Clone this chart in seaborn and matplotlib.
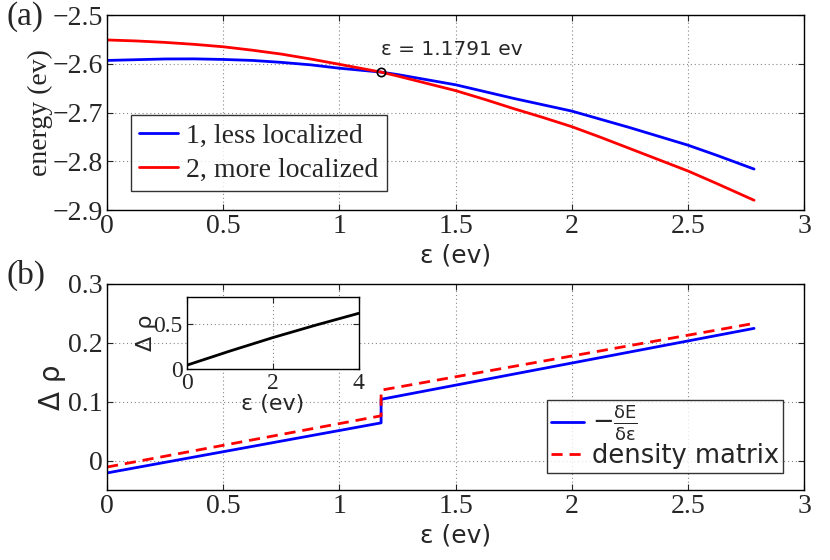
import numpy as np
import pandas as pd
import matplotlib
matplotlib.use('Agg')
import matplotlib.pyplot as plt
import seaborn as sns

# Panel (a): energies of the two states vs epsilon
eps = [0, 0.125, 0.25, 0.375, 0.5, 0.625, 0.75, 0.875, 1.0, 1.1791, 1.25, 1.5,
       1.625, 1.75, 1.875, 2.0, 2.125, 2.25, 2.375, 2.5, 2.625, 2.784]
energy_less = [-2.593, -2.5915, -2.590, -2.5898, -2.591, -2.593, -2.597, -2.602, -2.609,
               -2.617, -2.622, -2.643, -2.657, -2.671, -2.684, -2.697, -2.714, -2.731,
               -2.749, -2.767, -2.788, -2.816]
energy_more = [-2.551, -2.553, -2.556, -2.560, -2.565, -2.572, -2.580, -2.590, -2.601,
               -2.617, -2.625, -2.655, -2.673, -2.692, -2.710, -2.729, -2.751, -2.774,
               -2.797, -2.820, -2.846, -2.880]
cross_eps = 1.1791
cross_energy = -2.617

# Panel (b): delta rho, jump at the crossing
eps_b = [0, 1.1791, 1.1791, 2.784]
drho_deriv = [-0.021, 0.064, 0.104, 0.2245]
drho_dm = [-0.011, 0.076, 0.1196, 0.233]

# Inset
eps_inset = [0, 1, 2, 3, 4]
drho_inset = [0.045, 0.20, 0.348, 0.485, 0.615]

sns.set_style('ticks')
plt.rcParams['font.family'] = ['Liberation Serif', 'DejaVu Sans']
plt.rcParams['mathtext.fontset'] = 'dejavusans'

fig = plt.figure(figsize=(8.3, 5.6), dpi=100)
ax1 = fig.add_axes([0.129, 0.625, 0.840, 0.348])
ax2 = fig.add_axes([0.129, 0.125, 0.840, 0.368])
ax_in = fig.add_axes([0.225, 0.3405, 0.207, 0.130])

grid_kw = dict(color='#888888', linestyle=(0, (1, 2.5)), linewidth=0.8)
sans = 'DejaVu Sans'


def matlab_box(ax, size):
    ax.grid(True, **grid_kw)
    ax.tick_params(direction='in', top=True, right=True, labelsize=size,
                   length=4, width=0.8, pad=3)
    for s in ax.spines.values():
        s.set_linewidth(1.0)
        s.set_color('black')


# (a)
df_a = pd.DataFrame({'eps': eps, 'less': energy_less, 'more': energy_more})
sns.lineplot(data=df_a, x='eps', y='less', ax=ax1, color='#0000ff', lw=2,
             label='1, less localized')
sns.lineplot(data=df_a, x='eps', y='more', ax=ax1, color='#ff0000', lw=2,
             label='2, more localized')
ax1.plot([cross_eps], [cross_energy], 'o', mfc='none', mec='black', ms=6, mew=1.2)
ax1.text(cross_eps, -2.57, 'ε = 1.1791 ev', family=sans, fontsize=14.5,
         ha='left', va='center')
ax1.set_xlim(0, 3)
ax1.set_ylim(-2.9, -2.5)
ax1.set_xticks([0, 0.5, 1, 1.5, 2, 2.5, 3])
ax1.set_xticklabels(['0', '0.5', '1', '1.5', '2', '2.5', '3'])
ax1.set_yticks([-2.9, -2.8, -2.7, -2.6, -2.5])
ax1.set_yticklabels(['\u22122.9', '\u22122.8', '\u22122.7', '\u22122.6', '\u22122.5'])
ax1.set_xlabel('ε (ev)', family=sans, fontsize=18, labelpad=3)
ax1.set_ylabel('energy (ev)', fontsize=20, labelpad=0)
matlab_box(ax1, 20)
leg1 = ax1.legend(loc='lower left', bbox_to_anchor=(0.034, 0.097), borderaxespad=0,
                  fontsize=20, frameon=True, fancybox=False, handlelength=1.4,
                  handletextpad=0.3, borderpad=0.3, labelspacing=0.3)
leg1.get_frame().set_edgecolor('black')
leg1.get_frame().set_linewidth(1.0)

# (b)
df_b = pd.DataFrame({'eps': eps_b, 'deriv': drho_deriv, 'dm': drho_dm})
sns.lineplot(data=df_b, x='eps', y='deriv', ax=ax2, color='#0000ff', lw=2,
             sort=False, estimator=None,
             label=r'$-\frac{\mathrm{\delta E}}{\mathrm{\delta \varepsilon}}$')
sns.lineplot(data=df_b, x='eps', y='dm', ax=ax2, color='#ff0000', lw=2,
             sort=False, estimator=None, label='density matrix')
ax2.lines[1].set_dashes([4, 2.5])
ax2.set_xlim(0, 3)
ax2.set_ylim(-0.05, 0.3)
ax2.set_xticks([0, 0.5, 1, 1.5, 2, 2.5, 3])
ax2.set_xticklabels(['0', '0.5', '1', '1.5', '2', '2.5', '3'])
ax2.set_yticks([0, 0.1, 0.2, 0.3])
ax2.set_yticklabels(['0', '0.1', '0.2', '0.3'])
ax2.set_xlabel('ε (ev)', family=sans, fontsize=18, labelpad=3)
ax2.set_ylabel('Δ ρ', family=sans, fontsize=20, labelpad=2)
matlab_box(ax2, 20)
leg2 = ax2.legend(loc='lower right', bbox_to_anchor=(0.969, 0.081), borderaxespad=0,
                  prop={'family': sans, 'size': 18.5}, frameon=True, fancybox=False,
                  handlelength=1.3, handletextpad=0.3, borderpad=0.15, labelspacing=0.0)
leg2.get_frame().set_edgecolor('black')
leg2.get_frame().set_linewidth(1.0)

# inset
df_in = pd.DataFrame({'eps': eps_inset, 'drho': drho_inset})
sns.lineplot(data=df_in, x='eps', y='drho', ax=ax_in, color='black', lw=2)
ax_in.set_xlim(0, 4)
ax_in.set_ylim(0, 0.8)
ax_in.set_xticks([0, 2, 4])
ax_in.set_yticks([0, 0.5])
ax_in.set_yticklabels(['0', '0.5'])
ax_in.set_xlabel('ε (ev)', family=sans, fontsize=16, labelpad=0)
ax_in.set_ylabel('Δ ρ', family=sans, fontsize=16, labelpad=-2)
matlab_box(ax_in, 17)
ax_in.set_facecolor('white')

fig.text(0.008, 0.970, '(a)', fontsize=24, va='center', ha='left')
fig.text(0.008, 0.508, '(b)', fontsize=24, va='center', ha='left')

fig.savefig('out.png', dpi=100)
